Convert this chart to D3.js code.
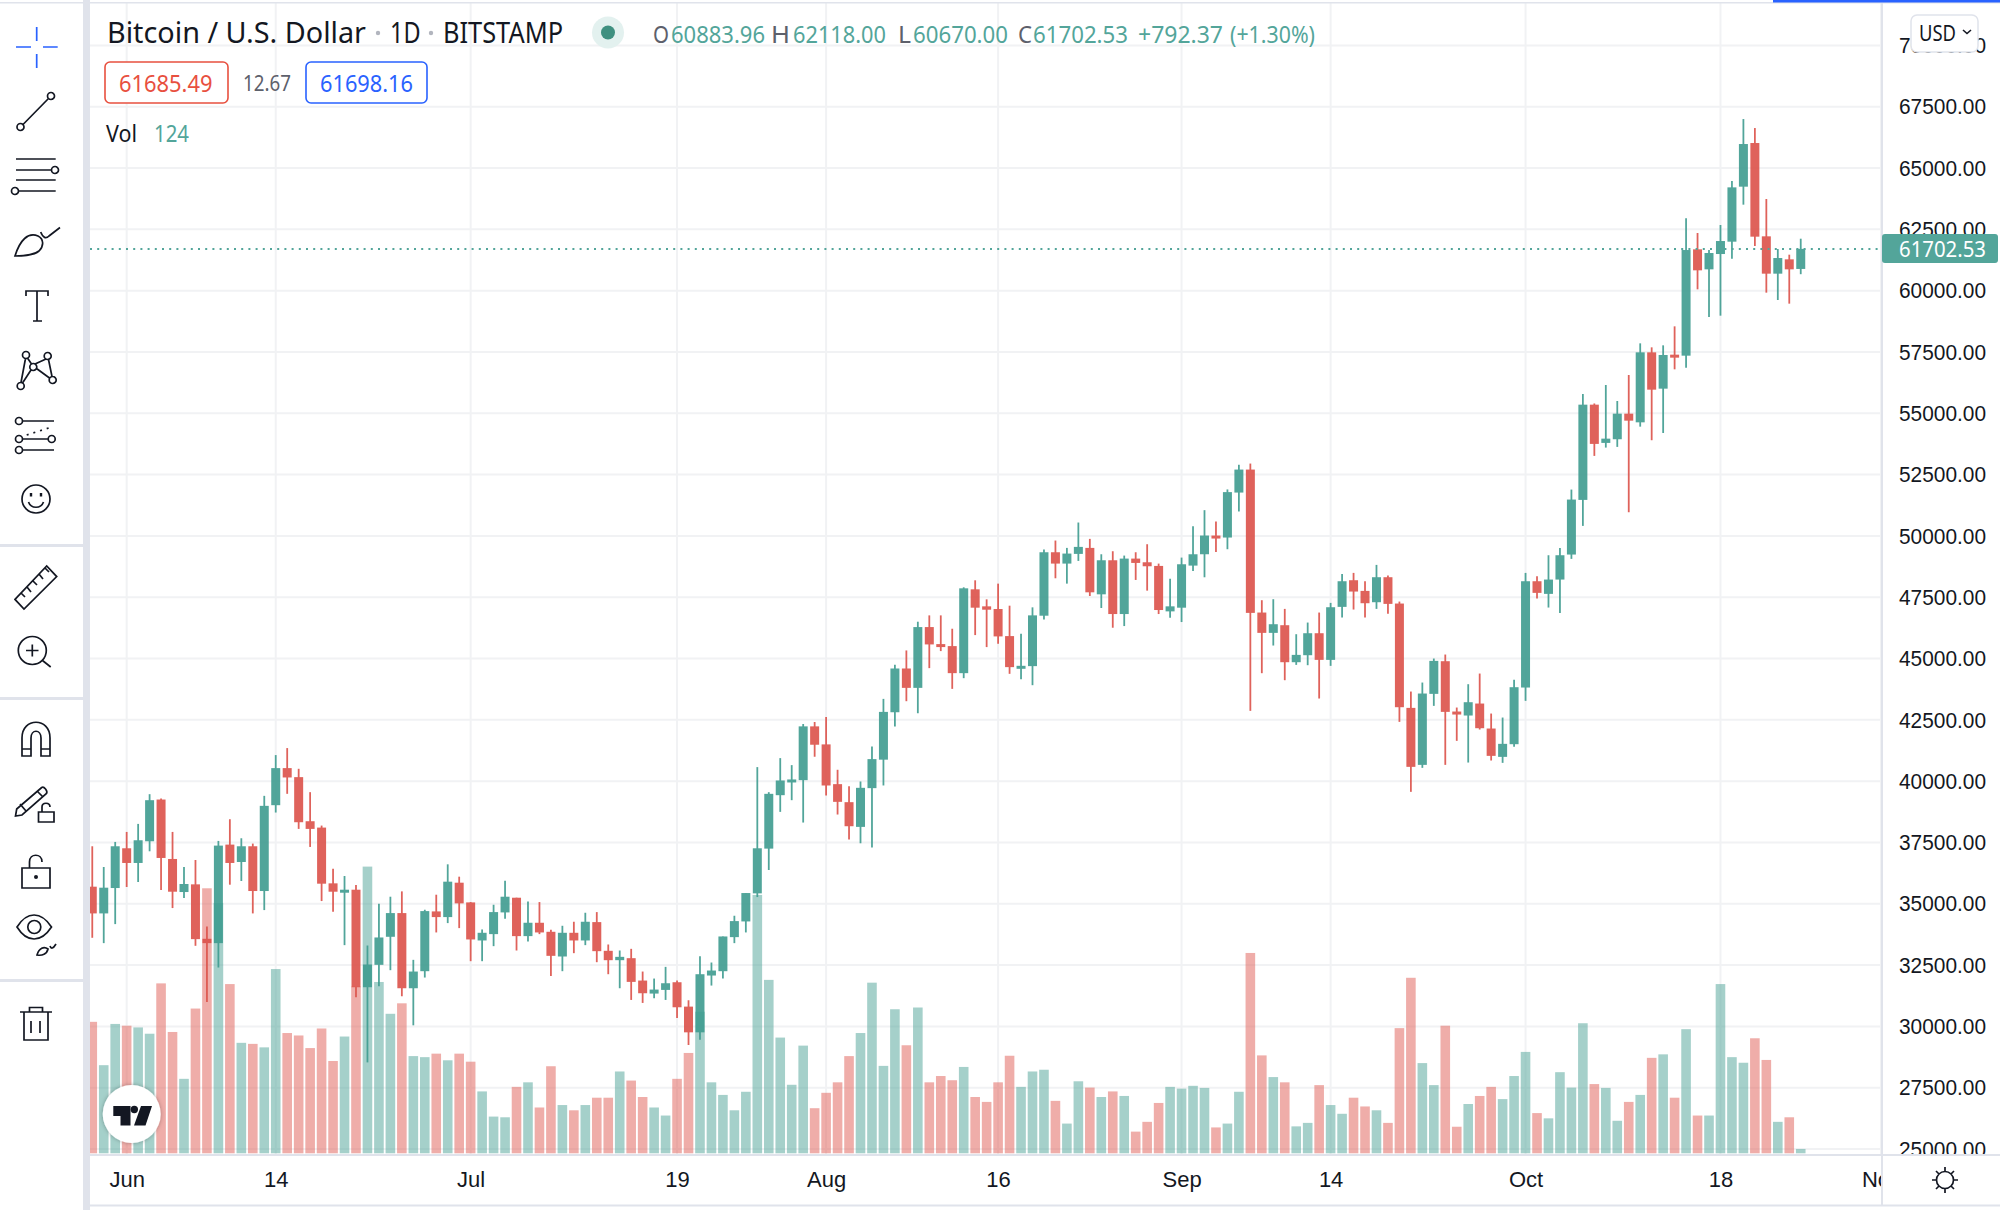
<!DOCTYPE html>
<html>
<head>
<meta charset="utf-8">
<title>Bitcoin / U.S. Dollar</title>
<script src="https://cdn.jsdelivr.net/npm/d3@7"></script>
<style>
  html, body { margin: 0; padding: 0; background: #fff; }
  svg { display: block; font-family: "Noto Sans", "Open Sans", sans-serif; }
</style>
</head>
<body>
<div id="chart"></div>
<script>
const opens = [35696,34606,35641,37262,36663,37548,39250,36826,35478,35791,33571,33394,37412,36703,37344,35519,39019,40531,40163,38365,38106,35832,35450,35573,31596,32509,33653,34620,31555,32250,
  34688,34456,35859,35055,33503,33762,34647,35246,33680,34225,33857,32849,33816,33503,34252,33081,32699,32781,31868,31337,31487,31800,30806,29757,32073,32250,33639,34279,35423,37248,
  39427,39972,40040,42233,41498,39877,39142,38134,39714,40875,42809,44593,43803,46282,45588,45506,44403,47821,47127,47018,45914,44607,44689,46745,49333,48870,49265,49510,47617,49006,
  46813,49074,48924,48775,46922,47072,48788,49251,50014,49932,51766,52704,46874,46045,46358,44849,45134,46031,44944,47105,48192,47757,47295,48315,47241,42987,40663,43558,44890,42838,
  42675,43164,42145,40989,41506,43816,48151,47635,48219,49239,51467,55351,53791,53940,54984,54630,57484,56003,57389,57348,61684,60868,61493,61996,64239,66019,62214,60692,61276,60883.96];
const highs = [37344,36499,37521,37929,38256,39468,39291,37929,36499,36785,34075,37562,38447,37671,37453,39400,41062,41348,40503,39550,38188,36431,36131,35764,33298,35001,35287,35505,32713,34756,
  35369,36608,36104,35069,33952,34960,35941,35246,35096,35069,33939,34102,34266,34633,34660,33339,33094,33162,32236,31950,32427,31868,31065,32863,32604,33666,34511,35437,40572,39550,
  40939,40653,42329,42410,42615,40463,39795,39986,41416,43354,44743,45329,46500,46759,46759,46214,47903,48189,47413,48053,47154,46010,47086,49442,49810,49510,50545,49878,49251,49374,
  49197,49333,49660,48870,48257,49115,50395,51049,50586,51894,52900,52949,47377,47418,47023,45991,46466,46874,47268,48450,48491,48151,48817,48382,47322,43653,44020,44999,45162,43001,
  43952,44387,42756,42593,44129,48491,48355,49211,49510,51889,55786,55400,56153,55500,56560,57851,57688,57770,58544,62948,62350,61656,62676,64470,66997,66630,63736,61697,61466,62118];
const lows = [33612,33394,34170,35682,35886,37139,35559,34824,35233,33285,30997,32400,35777,35927,34606,34742,38719,39482,38052,37316,35110,34674,33312,31187,28531,31637,32291,31228,30043,31991,
  33830,34211,34007,32658,32658,33271,34388,33094,33462,33762,32059,32250,32985,33312,32617,32127,31555,31078,30956,31147,31078,30343,29240,29458,31664,31950,33394,33830,35273,36377,
  38746,39223,38311,40994,39414,38638,37616,37466,37289,39823,42223,43259,42768,44607,45302,43762,44198,45955,45465,45601,44375,44157,43912,46595,48271,48053,48979,47549,47059,46255,
  46323,48203,47767,46813,46664,46486,48570,48312,49347,49456,50995,42865,44401,45529,44115,44740,44727,43368,44700,46670,46996,46670,47023,46820,42416,39563,40541,43069,40663,41642,
  40758,42104,40840,40745,41397,43273,47445,47078,46860,49062,50407,53261,53600,53628,50964,54454,53900,54196,56791,56859,60053,58925,58979,61303,63505,61820,59917,59618,59469,60670];
const closes = [34606,35655,37344,36663,37589,39223,36867,35491,35805,33557,33394,37371,36663,37344,35519,38992,40531,40149,38324,38052,35818,35491,35573,31596,32522,33625,34620,31555,32236,34701,
  34456,35900,35015,33544,33816,34660,35287,33680,34225,33830,32876,33816,33503,34266,33067,32699,32835,31814,31351,31501,31759,30779,29757,32127,32277,33666,34293,35437,37262,39482,
  40027,40068,42233,41484,39822,39155,38161,39727,40898,42823,44593,43803,46282,45574,45492,44403,47862,47072,46990,45901,44648,44702,46759,49333,48870,49279,49551,47699,49006,46813,
  49074,48897,48761,46977,47127,48843,49251,50014,49891,51785,52704,46860,46045,46398,44849,45148,46031,44944,47091,48151,47730,47254,48315,47227,43014,40582,43572,44903,42824,42715,
  43218,42158,41030,41520,43830,48151,47676,48219,49211,51481,55351,53750,53965,54984,54698,57484,55962,57376,57335,61656,60828,61534,62023,64211,65978,62200,60692,61330,60868,61702.53];
const volumes = [3760,2520,3700,3650,3600,3420,4860,3470,2130,4140,7580,7160,4840,3160,3130,3030,5270,3440,3370,3010,3570,2640,3340,4770,8200,4900,3990,4290,2780,2750,
  2850,2660,2850,2620,1770,1050,1030,1900,2030,1310,2490,1380,1230,1380,1590,1590,2340,2080,1610,1310,1080,2130,2870,4050,2030,1670,1230,1760,7390,4960,
  3310,1960,3080,1290,1730,2030,2780,3440,4880,2500,4120,3090,4170,2030,2210,2090,2470,1610,1470,2030,2790,1900,2340,2390,1500,850,2060,1880,1610,1770,
  1640,620,900,1440,1900,1850,1930,1870,740,850,1760,5730,2800,2180,2030,770,870,1950,1380,1130,1590,1340,1230,870,3580,5020,2580,1950,3650,760,
  1410,1640,1900,1550,2210,2900,1150,1000,2320,1880,3720,1980,1870,930,1470,1670,2730,2830,1590,3550,1080,1080,4840,2750,2590,3290,2670,900,1030,124];

const priceTicks = [25000,27500,30000,32500,35000,37500,40000,42500,45000,47500,50000,52500,55000,57500,60000,62500,65000,67500,70000];
const tickDays = [3,16,33,51,64,79,95,108,125,142,156];
const tickLabels = ["Jun","14","Jul","19","Aug","16","Sep","14","Oct","18","Nov"];
const lastPrice = 61702.53;

const up = "#3f9c90", down = "#dc524a", upSolid = "#53a59a";
const ink = "#131722", line = "#e0e3eb", grid = "#f1f2f4";

const left = 90, right = 1882, bottom = 1154;

const x = d3.scaleLinear().domain([0, 156]).range([92.27, 1881]);
const y = d3.scaleLinear().domain([25000, 67500]).range([1149, 106.7]);
const yVol = d3.scaleLinear().domain([0, 8200]).range([1153.3, 866.6]);

const svg = d3.select("#chart").append("svg")
  .attr("width", 2000)
  .attr("height", 1210)
  .attr("viewBox", "0 0 2000 1210");

const defs = svg.append("defs");
defs.append("clipPath").attr("id", "pane").append("rect")
  .attr("x", left).attr("y", 3).attr("width", right - left).attr("height", bottom - 3);
defs.append("clipPath").attr("id", "timeClip").append("rect")
  .attr("x", left).attr("y", bottom).attr("width", right - left).attr("height", 50);
defs.append("clipPath").attr("id", "priceClip").append("rect")
  .attr("x", right).attr("y", 3).attr("width", 118).attr("height", bottom - 3);
const shadow = defs.append("filter").attr("id", "logoShadow")
  .attr("x", "-20%").attr("y", "-20%").attr("width", "140%").attr("height", "140%");
shadow.append("feDropShadow").attr("dx", 0).attr("dy", 0).attr("stdDeviation", 2)
  .attr("flood-color", "#000").attr("flood-opacity", 0.3);

// pane
const pane = svg.append("g").attr("clip-path", "url(#pane)");

pane.append("g").selectAll("line")
  .data(priceTicks)
  .enter().append("line")
  .attr("x1", left).attr("x2", right)
  .attr("y1", d => y(d)).attr("y2", d => y(d))
  .attr("stroke", grid).attr("stroke-width", 2);

pane.append("g").selectAll("line")
  .data(tickDays)
  .enter().append("line")
  .attr("x1", d => x(d)).attr("x2", d => x(d))
  .attr("y1", 3).attr("y2", bottom)
  .attr("stroke", grid).attr("stroke-width", 2);

const candles = closes.map((c, i) => ({
  i, o: opens[i], h: highs[i], l: lows[i], c, v: volumes[i], rising: c >= opens[i]
}));

// volume
pane.append("g").selectAll("rect")
  .data(candles)
  .enter().append("rect")
  .attr("x", d => x(d.i) - 4.8)
  .attr("width", 9.6)
  .attr("y", d => yVol(d.v))
  .attr("height", d => yVol(0) - yVol(d.v))
  .attr("fill", d => d.rising ? "#53a59a" : "#e0615b")
  .attr("opacity", 0.52);

// candles
const candle = pane.append("g").attr("opacity", 0.9).selectAll("g")
  .data(candles)
  .enter().append("g");

candle.append("line")
  .attr("x1", d => x(d.i)).attr("x2", d => x(d.i))
  .attr("y1", d => y(d.h)).attr("y2", d => y(d.l))
  .attr("stroke", d => d.rising ? up : down)
  .attr("stroke-width", 1.8);

candle.append("rect")
  .attr("x", d => x(d.i) - 4.5)
  .attr("width", 9)
  .attr("y", d => y(Math.max(d.o, d.c)))
  .attr("height", d => Math.max(3, Math.abs(y(d.o) - y(d.c))))
  .attr("fill", d => d.rising ? up : down);

// last price line
pane.append("line")
  .attr("x1", left).attr("x2", right)
  .attr("y1", y(lastPrice)).attr("y2", y(lastPrice))
  .attr("stroke", upSolid)
  .attr("stroke-width", 2)
  .attr("stroke-dasharray", "2 5.2");

// tradingview badge
const badge = pane.append("g");
badge.append("circle")
  .attr("cx", 131.7).attr("cy", 1114).attr("r", 29)
  .attr("fill", "#fff").attr("filter", "url(#logoShadow)");
badge.append("path")
  .attr("fill", ink)
  .attr("d", "M113.3,1106H130.5V1125.5H120.5V1116H113.3Z M141,1106H152L145.5,1125.5H134Z");
badge.append("circle").attr("cx", 134.3).attr("cy", 1109.5).attr("r", 3.7).attr("fill", ink);

// axes
const priceAxis = svg.append("g")
  .attr("clip-path", "url(#priceClip)")
  .append("g")
  .attr("transform", `translate(${right},0)`)
  .call(d3.axisRight(y).tickValues(priceTicks).tickFormat(d3.format(".2f")).tickSize(0).tickPadding(17));
priceAxis.select(".domain").remove();
priceAxis.selectAll("text")
  .attr("fill", ink)
  .attr("font-size", 22.5)
  .attr("textLength", 87)
  .attr("lengthAdjust", "spacingAndGlyphs");

const timeAxis = svg.append("g")
  .attr("clip-path", "url(#timeClip)")
  .append("g")
  .attr("transform", `translate(0,${bottom})`)
  .call(d3.axisBottom(x).tickValues(tickDays).tickFormat((d, i) => tickLabels[i]).tickSize(0));
timeAxis.select(".domain").remove();
timeAxis.selectAll("text")
  .attr("fill", ink)
  .attr("font-size", 22)
  .attr("y", 33)
  .attr("dy", 0);

// frame
svg.append("rect").attr("x", 83).attr("y", 0).attr("width", 7).attr("height", 1210).attr("fill", line);
svg.append("rect").attr("x", 0).attr("y", 2).attr("width", 2000).attr("height", 1.5).attr("fill", line);
svg.append("rect").attr("x", 1773).attr("y", 0).attr("width", 227).attr("height", 2.5).attr("fill", "#2962ff");
svg.append("rect").attr("x", left).attr("y", 1154).attr("width", 1910).attr("height", 2).attr("fill", line);
svg.append("rect").attr("x", left).attr("y", 1204.5).attr("width", 1910).attr("height", 2).attr("fill", line);
svg.append("rect").attr("x", right - 1).attr("y", 3).attr("width", 2).attr("height", 1202).attr("fill", line);
[544, 697, 979].forEach(t => {
  svg.append("rect").attr("x", 0).attr("y", t).attr("width", 83).attr("height", 3).attr("fill", line);
});

// last price tag
svg.append("rect")
  .attr("x", right).attr("y", y(lastPrice) - 15)
  .attr("width", 116).attr("height", 29).attr("rx", 3)
  .attr("fill", upSolid);
svg.append("text")
  .attr("x", 1899).attr("y", y(lastPrice) + 8)
  .attr("fill", "#fff").attr("font-size", 22.5)
  .attr("textLength", 87).attr("lengthAdjust", "spacingAndGlyphs")
  .text("61702.53");

// currency button
svg.append("rect")
  .attr("x", 1911).attr("y", 15).attr("width", 67).attr("height", 37).attr("rx", 6)
  .attr("fill", "#fff").attr("stroke", line).attr("stroke-width", 1.5);
svg.append("text")
  .attr("x", 1919).attr("y", 40.5)
  .attr("fill", ink).attr("font-size", 22.5)
  .attr("textLength", 37).attr("lengthAdjust", "spacingAndGlyphs")
  .text("USD");
svg.append("path")
  .attr("d", "M1963,30l4,3.5l4,-3.5")
  .attr("fill", "none").attr("stroke", ink).attr("stroke-width", 1.6);

// legend text
function label(txt, xStart, xEnd, base, size, fill) {
  svg.append("text")
    .attr("x", xStart).attr("y", base)
    .attr("font-size", size).attr("fill", fill)
    .attr("textLength", xEnd - xStart).attr("lengthAdjust", "spacingAndGlyphs")
    .text(txt);
}

label("Bitcoin / U.S. Dollar", 107, 366, 43, 29, ink);
label("1D", 390, 420.5, 43, 29, ink);
label("BITSTAMP", 443, 563, 43, 29, ink);
[378, 431].forEach(cx => {
  svg.append("circle").attr("cx", cx).attr("cy", 33).attr("r", 2.2).attr("fill", "#b2b5be");
});

svg.append("circle").attr("cx", 608).attr("cy", 32.5).attr("r", 16).attr("fill", "#e3f1ef");
svg.append("circle").attr("cx", 608).attr("cy", 32.5).attr("r", 7).attr("fill", "#3f9080");

const legendGray = "#5d606b";
label("O", 653, 669, 43, 24, legendGray);
label("60883.96", 671, 765, 43, 24, upSolid);
label("H", 771, 790, 43, 24, legendGray);
label("62118.00", 793, 886, 43, 24, upSolid);
label("L", 898, 911, 43, 24, legendGray);
label("60670.00", 913, 1008, 43, 24, upSolid);
label("C", 1018, 1032, 43, 24, legendGray);
label("61702.53", 1033, 1128, 43, 24, upSolid);
label("+792.37", 1138, 1223, 43, 24, upSolid);
label("(+1.30%)", 1230, 1315, 43, 24, upSolid);

svg.append("rect").attr("x", 105).attr("y", 62).attr("width", 123).attr("height", 41).attr("rx", 5)
  .attr("fill", "#fff").attr("stroke", "#e8503f").attr("stroke-width", 1.6);
label("61685.49", 119, 212.5, 92, 24, "#e8503f");
label("12.67", 243, 291, 91, 21.5, legendGray);
svg.append("rect").attr("x", 306).attr("y", 62).attr("width", 121).attr("height", 41).attr("rx", 5)
  .attr("fill", "#fff").attr("stroke", "#2962ff").attr("stroke-width", 1.6);
label("61698.16", 320, 413, 92, 24, "#2962ff");

label("Vol", 106, 137, 142, 24, ink);
label("124", 154, 189, 142, 24, upSolid);

// toolbar icons
const dot = (cx, cy, r) => `M${cx - r},${cy}a${r},${r} 0 1,0 ${2 * r},0a${r},${r} 0 1,0 ${-2 * r},0`;
const icons = [
  // trend line
  dot(20.5, 127, 3.5) + dot(51, 96, 3.5) + "M23,124.5L48.5,98.5",
  // channel
  "M16,159H55.7M16,170H51M16,180H55.7M19,191H55.7" + dot(55, 170, 3.5) + dot(15, 191, 3.5),
  // brush
  "M15,256C20,240 28,232 38,236C44,239 44,246 39,251C33,256 22,256 15,256Z M40.7,232C43,238 46,239 49,236L60,227.5",
  // text
  "M26,296V291H48V296M37,291V321M33,321H42",
  // nodes
  dot(26, 355, 3.5) + dot(47.7, 356, 3.5) + dot(33.3, 367, 3.5) + dot(20.7, 386, 3.5) + dot(52.7, 380, 3.5) +
    "M25.5,358.5L21,382.5M27.5,358L31.5,364M31,370L22.5,383M35,364L46,359M48.5,359.5L52,376.5M36.5,368.5L49.5,378",
  // fib
  dot(19, 421, 3.5) + dot(19, 439, 3.5) + dot(51.7, 439, 3.5) + dot(19, 450, 3.5) +
    "M22.5,421H54M22.5,439H48M22.5,450H54",
  // smiley
  dot(36, 499, 14) + "M28.5,502C31,509 41,509 43.5,502",
  // ruler
  "M15,599.4L46.7,566L56.7,576.6L24,609Z M21,593L25,597M27,587L31,592M33,581L37,585M39,574L43,579M45,568L49,572",
  // zoom
  dot(32.3, 650.5, 14) + "M26,650.5H38.5M32.3,644.5V656.5M42.5,660.5L50.7,667",
  // magnet
  "M22,756V738C22,717 50,717 50,738V756H41V738C41,729 31,729 31,738V756Z M22,749H31M41,749H50",
  // pencil with lock
  "M16.7,809L41.7,787.5C44,786 48,791 46.5,793.5L22,815L15.5,816Z M20,804L26,811M37.5,791.5L43,797 M38.5,812H54V822H38.5Z M42,812V807C42,802 50,802 50,807",
  // lock
  "M22,868H50V888H22Z M29.5,868V862C29.5,853 42,853 42,862",
  // eye
  "M17,927C27,911 41,911 51.5,927C41,943 27,943 17,927Z" + dot(34.3, 927, 6.5) + "M37,955C39,948 44,946 48,949C47,954 42,956 37,955Z M50,946C51,949 53,949 56,944",
  // trash
  "M20,1012H52M24,1012V1040H48V1012M29.5,1012V1007.5H42.5V1012M31,1021V1033M40,1021V1033",
  // sun
  dot(1945, 1180, 8.5) + "M1945,1167V1171M1945,1189V1193M1932,1180H1936M1954,1180H1958M1936,1171L1939,1174M1951,1186L1954,1189M1954,1171L1951,1174M1939,1186L1936,1189"
];

svg.append("g").selectAll("path")
  .data(icons)
  .enter().append("path")
  .attr("d", d => d)
  .attr("fill", "none")
  .attr("stroke", ink)
  .attr("stroke-width", 1.7);

svg.append("circle").attr("cx", 36).attr("cy", 877).attr("r", 2).attr("fill", ink);
svg.append("path").attr("d", "M31,493v3.5M41,493v3.5").attr("stroke", ink).attr("stroke-width", 2.4);
svg.append("path").attr("d", "M26.7,435L51.7,427").attr("stroke", ink).attr("stroke-width", 1.7).attr("stroke-dasharray", "2 5");

// crosshair
svg.append("path")
  .attr("d", "M16,47H31M43,47H57.7M36.7,27V41M36.7,54V68")
  .attr("fill", "none").attr("stroke", "#2962ff").attr("stroke-width", 1.7);
</script>
</body>
</html>
